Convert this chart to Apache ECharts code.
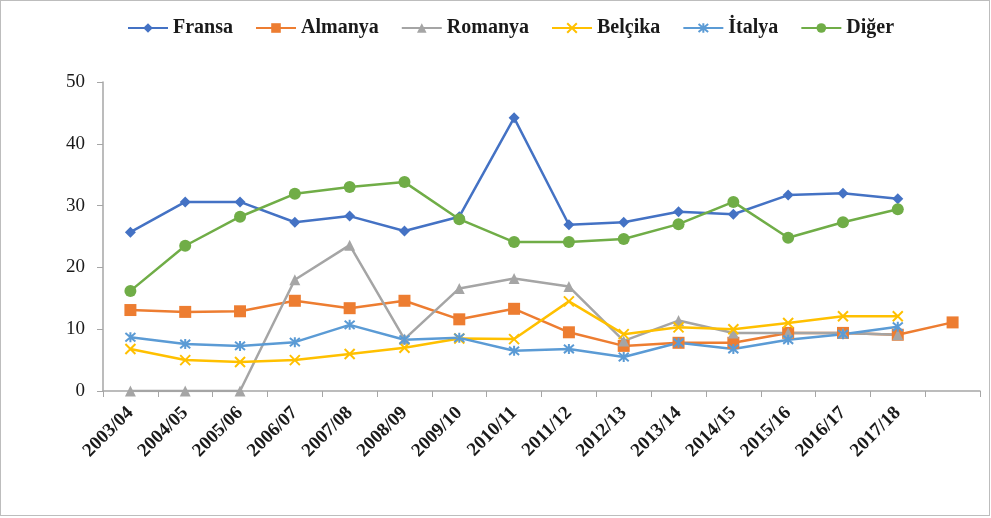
<!DOCTYPE html>
<html>
<head>
<meta charset="utf-8">
<script src="https://cdn.jsdelivr.net/npm/echarts@6/dist/echarts.min.js"></script>
<style>
  html, body { margin: 0; padding: 0; background: #fff; }
  #frame { position: absolute; left: 0; top: 0; width: 988px; height: 514px; border: 1px solid #bdbdbd; }
  #chart { position: absolute; left: 0; top: 0; width: 991px; height: 518px; }
</style>
</head>
<body>
<div id="frame"></div>
<div id="chart"></div>
<script>
const years = ['2003/04', '2004/05', '2005/06', '2006/07', '2007/08', '2008/09', '2009/10', '2010/11',
  '2011/12', '2012/13', '2013/14', '2014/15', '2015/16', '2016/17', '2017/18', ''];

const fransa  = [25.7, 30.6, 30.6, 27.3, 28.3, 25.9, 28.2, 44.2, 26.9, 27.3, 29.0, 28.6, 31.7, 32.0, 31.1, null];
const almanya = [13.1, 12.8, 12.9, 14.6, 13.4, 14.6, 11.6, 13.3, 9.5, 7.3, 7.8, 7.8, 9.4, 9.4, 9.1, 11.1];
const romanya = [0, 0, 0, 18.0, 23.6, 8.4, 16.6, 18.2, 16.9, 8.1, 11.4, 9.4, 9.4, 9.4, 9.1, null];
const belcika = [6.8, 5.0, 4.7, 5.0, 6.0, 7.0, 8.5, 8.4, 14.5, 9.2, 10.3, 10.0, 11.0, 12.1, 12.1, null];
const italya  = [8.7, 7.6, 7.3, 7.9, 10.7, 8.3, 8.6, 6.5, 6.8, 5.5, 7.8, 6.8, 8.3, 9.2, 10.4, null];
const diger   = [16.2, 23.5, 28.2, 31.9, 33.0, 33.8, 27.8, 24.1, 24.1, 24.6, 27.0, 30.6, 24.8, 27.3, 29.4, null];

const serif = '"Liberation Serif", "DejaVu Serif", serif';
const xMark = 'path://M0,0L10,10M10,0L0,10';
const starMark = 'path://M0,0L10,10M10,0L0,10M5,-1L5,11';

function line(name, data, color, symbol, size, stroke) {
  const s = {
    name, type: 'line', data, symbol, symbolSize: size,
    lineStyle: { color, width: 2.5 },
    itemStyle: { color }
  };
  if (stroke) {
    s.itemStyle = { color: 'none', borderColor: color, borderWidth: 2 };
  }
  return s;
}

const chart = echarts.init(document.getElementById('chart'));
chart.setOption({
  animation: false,
  textStyle: { fontFamily: serif },
  legend: {
    top: 13, left: 122, itemWidth: 40, itemHeight: 12, itemGap: 22,
    textStyle: { fontFamily: serif, fontSize: 20, fontWeight: 'bold', color: '#1a1a1a' }
  },
  grid: { left: 103, right: 11, top: 82, bottom: 127 },
  xAxis: {
    type: 'category', data: years, boundaryGap: true,
    axisLine: { lineStyle: { color: '#a6a6a6', width: 1.5 } },
    axisTick: { show: true, length: 6, lineStyle: { color: '#a6a6a6' } },
    axisLabel: { interval: 0, rotate: 45, fontFamily: serif, fontSize: 19, fontWeight: 'bold', color: '#1a1a1a', margin: 19 }
  },
  yAxis: {
    type: 'value', min: 0, max: 50, interval: 10,
    axisLine: { show: true, lineStyle: { color: '#a6a6a6', width: 1.5 } },
    axisTick: { show: true, length: 6, lineStyle: { color: '#a6a6a6' } },
    splitLine: { show: false },
    axisLabel: { fontFamily: serif, fontSize: 19, color: '#1a1a1a', margin: 18 }
  },
  series: [
    line('Fransa', fransa, '#4472C4', 'diamond', 11),
    line('Almanya', almanya, '#ED7D31', 'rect', 12),
    line('Romanya', romanya, '#A5A5A5', 'triangle', 11),
    line('Belçika', belcika, '#FFC000', xMark, 10, true),
    line('İtalya', italya, '#5B9BD5', starMark, 10, true),
    line('Diğer', diger, '#70AD47', 'circle', 12)
  ]
});
</script>
</body>
</html>
